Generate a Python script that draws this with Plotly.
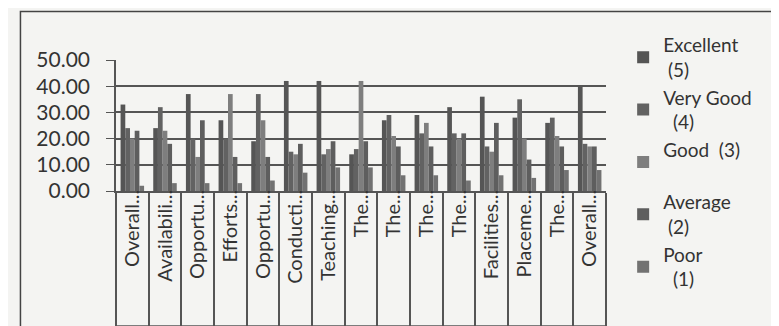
import plotly.graph_objects as go

# category labels (truncated as in the source chart)
labels = ["Overall...", "Availabili...", "Opportu...", "Efforts...", "Opportu...",
          "Conducti...", "Teaching...", "The...", "The...", "The...", "The...",
          "Facilities...", "Placeme...", "The...", "Overall..."]

excellent = [33, 24, 37, 27, 19, 42, 42, 14, 27, 29, 32, 36, 28, 26, 40]
very_good = [24, 32, 20, 20, 37, 15, 14, 16, 29, 22, 22, 17, 35, 28, 18]
good      = [20, 23, 13, 37, 27, 14, 16, 42, 21, 26, 20, 15, 20, 21, 17]
average   = [23, 18, 27, 13, 13, 18, 19, 19, 17, 17, 22, 26, 12, 17, 17]
poor      = [2, 3, 3, 3, 4, 7, 9, 9, 6, 6, 4, 6, 5, 8, 8]

series = [
    ("Excellent<br> (5)", excellent, "#555555"),
    ("Very Good<br>  (4)", very_good, "#626262"),
    ("Good  (3)<br> ", good, "#7e7e7e"),
    ("Average<br> (2)", average, "#5e5e5e"),
    ("Poor<br>  (1)", poor, "#727272"),
]

x = list(range(len(labels)))
fig = go.Figure()
for name, vals, col in series:
    fig.add_trace(go.Bar(x=x, y=vals, name=name, marker_color=col,
                         marker_line_width=0))

BG = "#f4f4f2"
fig.update_layout(
    width=779, height=326,
    margin=dict(l=108, r=181, t=52, b=143),
    paper_bgcolor=BG, plot_bgcolor=BG,
    font=dict(family="Lato, Open Sans, sans-serif", size=17, color="#333333"),
    barmode="group", bargap=0.28, bargroupgap=0,
    showlegend=True,
    legend=dict(x=1.035, y=1.26, xanchor="left", yanchor="top",
                bgcolor="rgba(0,0,0,0)", font=dict(size=19, color="#333"),
                itemwidth=30, maxheight=300, tracegroupgap=0),
)
fig.update_yaxes(range=[0, 50], dtick=10, tickformat=".2f",
                 showgrid=True, gridcolor="#555555", gridwidth=1.5,
                 showline=True, linecolor="#555555", linewidth=1.5,
                 ticks="outside", ticklen=8, tickcolor="#555555",
                 ticklabelstandoff=12,
                 zeroline=False, tickfont=dict(size=21))
fig.update_xaxes(tickmode="array", tickvals=x, ticktext=labels,
                 tickangle=-90, ticks="", range=[-0.5, len(labels) - 0.5],
                 ticklabelstandoff=-11,
                 showline=True, linecolor="#555555", linewidth=1.5,
                 showgrid=False, zeroline=False, tickfont=dict(size=20),
                 minor=dict(tickmode="linear", tick0=-0.5, dtick=1,
                            ticks="outside", ticklen=135, tickwidth=1.5,
                            tickcolor="#555555"))

# label box bottom line and chart frame
fig.add_shape(type="line", xref="paper", yref="paper",
              x0=0, x1=1, y0=-1.03, y1=-1.03,
              line=dict(color="#555555", width=1.5))
fig.add_shape(type="rect", xref="paper", yref="paper",
              x0=-0.195, x1=1.35, y0=-1.06, y1=1.37,
              line=dict(color="#444444", width=1.5))

fig.write_html("out.html")
